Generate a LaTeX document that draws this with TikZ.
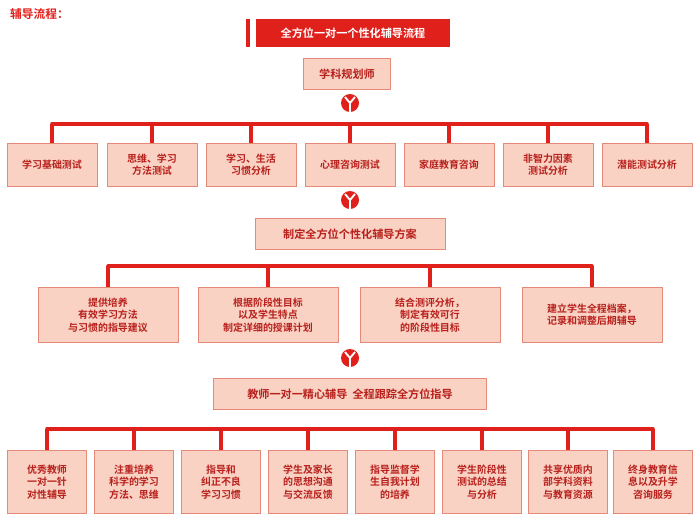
\documentclass[tikz,border=0pt]{standalone}
\usepackage{fontspec}
\setmainfont{Noto Sans CJK SC Bold}
\usetikzlibrary{positioning}
\definecolor{fdred}{HTML}{E0201B}
\definecolor{fdtext}{HTML}{B8201C}
\definecolor{fdpink}{HTML}{F9D2C4}
\definecolor{fdedge}{HTML}{E58A78}
\tikzset{
  x=0.03cm, y=-0.03cm,
  stepbox/.style={draw=fdedge, fill=fdpink, line width=0.8pt, text=fdtext,
    align=center, font=\fontsize{8.5}{10.5}\selectfont, inner sep=2pt,
    append after command={\pgfextra{\draw[white, dashed, line width=0.5pt]
      ([shift={(2pt,-2pt)}]\tikzlastnode.north west) rectangle
      ([shift={(-2pt,2pt)}]\tikzlastnode.south east);}}},
  bus/.style={fdred, line width=3pt},
}
\newcommand{\downmark}[2]{%
  \fill[fdred] (#1) circle (9);
  \draw[white, line width=1.6pt] ($(#1)+(-5,-6)$) -- (#1) -- ($(#1)+(5,-6)$);
  \draw[white, line width=1.6pt] (#1) -- ($(#1)+(0,9)$);
  \coordinate (#2) at (#1);}
\usetikzlibrary{calc}
\begin{document}
\begin{tikzpicture}
\useasboundingbox (0,0) rectangle (700,521);
\node[text=fdred, font=\fontsize{10}{12}\selectfont, anchor=west] (head) at (6,14) {辅导流程：};

% title
\fill[fdred] (246,19) rectangle (250,47);
\node[fill=fdred, text=white, minimum width=196\pgflinewidth, font=\fontsize{9.5}{12}\selectfont,
  minimum height=0.84cm, text width=5.6cm, align=center] (title) at (353,33) {全方位一对一个性化辅导流程};

% level 1
\node[stepbox, minimum width=2.6cm, minimum height=0.95cm, font=\fontsize{9.5}{12}\selectfont] (plan) at (347,74) {学科规划师};
\downmark{350,103}{m1}
\foreach \n/\cx/\txt in {a/52/学习基础测试, b/152/{思维、学习\\方法测试}, c/251/{学习、生活\\习惯分析},
    d/350/心理咨询测试, e/449/家庭教育咨询, f/548/{非智力因素\\测试分析}, g/647/潜能测试分析} {
  \node[stepbox, minimum width=2.7cm, minimum height=1.3cm, text width=2.4cm] (r1\n) at (\cx,165) {\txt};
  \draw[bus] (r1\n.north) -- ++(0,-19);
}
\draw[bus, line cap=round] ([yshift=19*0.03cm]r1a.north) -- ([yshift=19*0.03cm]r1g.north);

% level 2
\downmark{350,200}{m2}
\node[stepbox, minimum width=5.7cm, minimum height=0.95cm, font=\fontsize{9.5}{12}\selectfont] (scheme) at (350,234) {制定全方位个性化辅导方案};
\foreach \n/\cx/\txt in {a/108/{提供培养\\有效学习方法\\与习惯的指导建议}, b/268/{根据阶段性目标\\以及学生特点\\制定详细的授课计划},
    c/430/{结合测评分析，\\制定有效可行\\的阶段性目标}, d/592/{建立学生全程档案，\\记录和调整后期辅导}} {
  \node[stepbox, minimum width=4.2cm, minimum height=1.65cm, text width=4cm] (r2\n) at (\cx,315) {\txt};
  \draw[bus] (r2\n.north) -- ++(0,-21);
}
\draw[bus, line cap=round] ([yshift=21*0.03cm]r2a.north) -- ([yshift=21*0.03cm]r2d.north);

% level 3
\downmark{350,358}{m3}
\node[stepbox, minimum width=8.2cm, minimum height=0.95cm, font=\fontsize{9.5}{12}\selectfont] (teach) at (350,394) {教师一对一精心辅导\ \ 全程跟踪全方位指导};
\foreach \n/\cx/\txt in {a/47/{优秀教师\\一对一针\\对性辅导}, b/134/{注重培养\\科学的学习\\方法、思维}, c/221/{指导和\\纠正不良\\学习习惯},
    d/308/{学生及家长\\的思想沟通\\与交流反馈}, e/395/{指导监督学\\生自我计划\\的培养}, f/482/{学生阶段性\\测试的总结\\与分析},
    g/568/{共享优质内\\部学科资料\\与教育资源}, h/653/{终身教育信\\息以及升学\\咨询服务}} {
  \node[stepbox, minimum width=2.35cm, minimum height=1.9cm, text width=2.2cm] (r3\n) at (\cx,482) {\txt};
  \draw[bus] (r3\n.north) -- ++(0,-21);
}
\draw[bus, line cap=round] ([yshift=21*0.03cm]r3a.north) -- ([yshift=21*0.03cm]r3h.north);
\end{tikzpicture}
\end{document}
